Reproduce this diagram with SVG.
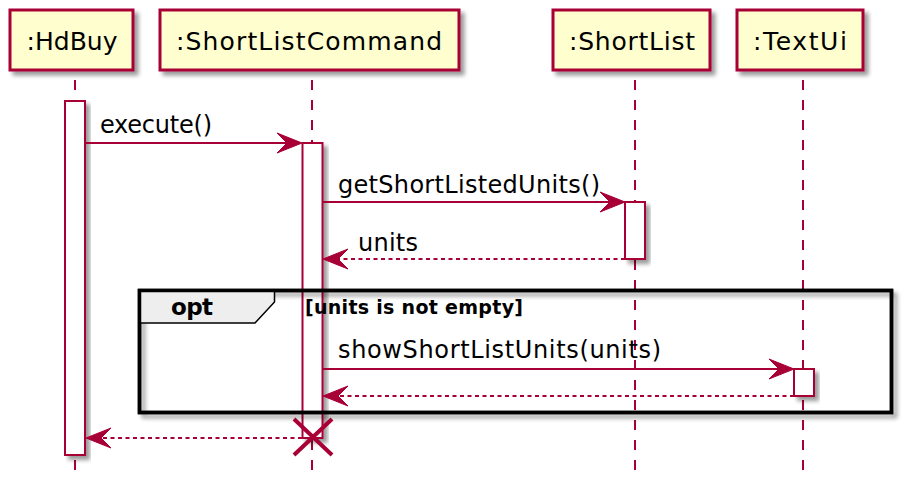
<svg xmlns="http://www.w3.org/2000/svg" width="917" height="486" viewBox="0 0 917 486">
<defs>
<filter id="sh" x="-20%" y="-20%" width="150%" height="150%">
<feGaussianBlur in="SourceAlpha" stdDeviation="2.2" result="b"/>
<feOffset in="b" dx="4" dy="4" result="o"/>
<feComponentTransfer in="o" result="s"><feFuncA type="linear" slope="0.4"/></feComponentTransfer>
<feMerge><feMergeNode in="s"/><feMergeNode in="SourceGraphic"/></feMerge>
</filter>
</defs>
<style>
.part{fill:#FEFECE;stroke:#A80036;stroke-width:3;filter:url(#sh)}
.ptxt{font-family:"DejaVu Sans",sans-serif;font-size:25px;fill:#000;text-anchor:middle}
.life{stroke:#A80036;stroke-width:2;stroke-dasharray:10 10;fill:none}
.act{fill:#FFFFFF;stroke:#A80036;stroke-width:2;filter:url(#sh)}
.msg{stroke:#A80036;stroke-width:2;fill:none}
.ret{stroke:#A80036;stroke-width:2;fill:none;stroke-dasharray:4 3.5}
.head{fill:#A80036;stroke:#A80036;stroke-width:1}
.mtxt{font-family:"DejaVu Sans",sans-serif;font-size:24px;fill:#000}
.btxt{font-family:"DejaVu Sans",sans-serif;font-weight:bold;fill:#000}
</style>

<g id="lifelines">
<line class="life" x1="75" y1="80" x2="75" y2="472"/>
<line class="life" x1="312" y1="80" x2="312" y2="472"/>
<line class="life" x1="635" y1="80" x2="635" y2="472"/>
<line class="life" x1="803" y1="80" x2="803" y2="472"/>
</g>

<g id="participant-hdbuy">
<rect class="part" x="10" y="10" width="123" height="60"/>
<text class="ptxt" x="72" y="50" textLength="91">:HdBuy</text>
</g>
<g id="participant-shortlistcommand">
<rect class="part" x="160" y="10" width="299" height="60"/>
<text class="ptxt" x="309" y="50" textLength="266">:ShortListCommand</text>
</g>
<g id="participant-shortlist">
<rect class="part" x="553" y="10" width="157" height="60"/>
<text class="ptxt" x="632" y="50" textLength="126">:ShortList</text>
</g>
<g id="participant-textui">
<rect class="part" x="737" y="10" width="126" height="60"/>
<text class="ptxt" x="800" y="50" textLength="94">:TextUi</text>
</g>

<g id="activations">
<rect class="act" x="65" y="101" width="20" height="354"/>
<rect class="act" x="302.5" y="143" width="20" height="295"/>
<rect class="act" x="625" y="202" width="20" height="57"/>
<rect class="act" x="794" y="369" width="20" height="27"/>
</g>

<g id="opt-frame">
<rect x="139.5" y="290.5" width="752" height="122" fill="none" stroke="#000" stroke-width="3.5" filter="url(#sh)"/>
<path d="M139.5,290.5 L274.5,290.5 L274.5,302 L255,323 L139.5,323 Z" fill="#EEEEEE" stroke="#000" stroke-width="1.5"/>
<rect x="139.5" y="290.5" width="752" height="122" fill="none" stroke="#000" stroke-width="3.5"/>
<text class="btxt" x="171" y="315" font-size="23" textLength="42">opt</text>
<text class="btxt" x="305" y="314" font-size="19" textLength="218">[units is not empty]</text>
</g>

<g id="connectors">
<line class="msg" x1="85" y1="143" x2="298" y2="143"/>
<polygon class="head" points="277,133 302,143 277,153 287,143"/>
<text class="mtxt" x="100" y="133" textLength="112">execute()</text>

<line class="msg" x1="322.5" y1="202" x2="621" y2="202"/>
<polygon class="head" points="600,192 625,202 600,212 610,202"/>
<text class="mtxt" x="338" y="193" textLength="262">getShortListedUnits()</text>

<line class="ret" x1="625" y1="259" x2="327" y2="259"/>
<polygon class="head" points="348,249 323,259 348,269 338,259"/>
<text class="mtxt" x="358" y="251" textLength="60">units</text>

<line class="msg" x1="322.5" y1="369" x2="790" y2="369"/>
<polygon class="head" points="769,359 794,369 769,379 779,369"/>
<text class="mtxt" x="338" y="358" textLength="323">showShortListUnits(units)</text>

<line class="ret" x1="794" y1="396" x2="327" y2="396"/>
<polygon class="head" points="348,386 323,396 348,406 338,396"/>

<line class="ret" x1="302" y1="438" x2="90" y2="438"/>
<polygon class="head" points="111,428 86,438 111,448 101,438"/>

<g id="destroy">
<line x1="294" y1="419" x2="332" y2="455" stroke="#A80036" stroke-width="4"/>
<line x1="332" y1="419" x2="294" y2="455" stroke="#A80036" stroke-width="4"/>
</g>
</g>
</svg>
